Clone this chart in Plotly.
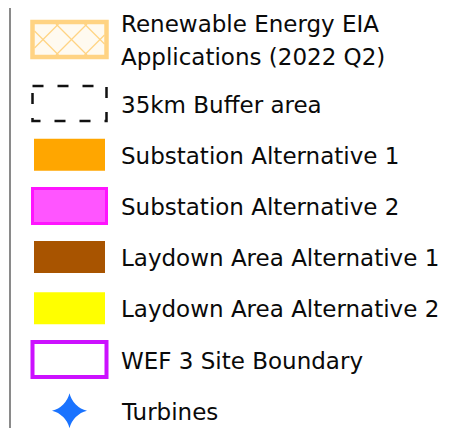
import plotly.graph_objects as go

labels = [
    "Renewable Energy EIA\nApplications (2022 Q2)",
    "35km Buffer area",
    "Substation Alternative 1",
    "Substation Alternative 2",
    "Laydown Area Alternative 1",
    "Laydown Area Alternative 2",
    "WEF 3 Site Boundary",
    "Turbines",
]
kinds = ["hatch", "dashed", "fill", "fill", "fill", "fill", "outline", "star"]
fill_colors = ["rgba(255,214,130,0.12)", "rgba(0,0,0,0)", "#FFA600", "#FF55FF",
               "#A85400", "#FFFF00", "#FFFFFF", "#1A73FF"]
line_colors = ["#FFD383", "#111111", "#FFA600", "#FF14FF",
               "#A85400", "#FFFF00", "#CC11FF", "#1A73FF"]

W, H = 452, 428
PAGE_OFFSET = 8  # default body margin of the page
ROW_H = 51.2
LINE_H = 32.5
TOP = 1.1
BOX_X0, BOX_X1 = 32.5, 106.5
BOX_HALF = 17.5
TEXT_X = 118.5
TEXT_DY = 1.0
FONT = dict(family="DejaVu Sans", size=23, color="#0a0a0a")

fig = go.Figure()
shapes = []
annotations = []

# vertical frame line on the left
shapes.append(dict(type="line", x0=10, x1=10, y0=0, y1=H,
                   line=dict(color="#8a8a8a", width=2)))


def clip_line(xc, yc, s, x0, x1, y0, y1):
    # line y = yc + s*(x - xc), clipped to rectangle
    pts = []
    for x in (x0, x1):
        y = yc + s * (x - xc)
        if y0 - 1e-9 <= y <= y1 + 1e-9:
            pts.append((x, y))
    for y in (y0, y1):
        x = xc + (y - yc) / s
        if x0 - 1e-9 <= x <= x1 + 1e-9:
            pts.append((x, y))
    pts = sorted(set((round(a, 6), round(b, 6)) for a, b in pts))
    if len(pts) >= 2:
        return pts[0], pts[-1]
    return None


y = TOP
star_x, star_y = [], []
for i, (lab, kind) in enumerate(zip(labels, kinds)):
    lines = lab.split("\n")
    h = ROW_H + (len(lines) - 1) * 32 * 0.8
    yc = y + h / 2
    y += h
    fc, lc = fill_colors[i], line_colors[i]
    if kind == "star":
        star_x.append((BOX_X0 + BOX_X1) / 2)
        star_y.append(yc)
    elif kind == "hatch":
        shapes.append(dict(type="rect", x0=BOX_X0, x1=BOX_X1,
                           y0=yc - BOX_HALF, y1=yc + BOX_HALF,
                           fillcolor=fc, line=dict(color=lc, width=4.5)))
        ix0, ix1 = BOX_X0 + 2, BOX_X1 - 2
        iy0, iy1 = yc - BOX_HALF + 2, yc + BOX_HALF - 2
        period = 28.5
        xc = BOX_X0 + 10.5 - period
        while xc < BOX_X1 + period:
            for s in (1, -1):
                seg = clip_line(xc, yc, s, ix0, ix1, iy0, iy1)
                if seg:
                    shapes.append(dict(type="line", x0=seg[0][0], y0=seg[0][1],
                                       x1=seg[1][0], y1=seg[1][1],
                                       line=dict(color=lc, width=1.3)))
            xc += period
    elif kind == "dashed":
        shapes.append(dict(type="rect", x0=BOX_X0, x1=BOX_X1,
                           y0=yc - BOX_HALF, y1=yc + BOX_HALF,
                           fillcolor=fc,
                           line=dict(color=lc, width=2.5, dash="11px,14px")))
    elif kind == "outline":
        shapes.append(dict(type="rect", x0=BOX_X0, x1=BOX_X1,
                           y0=yc - BOX_HALF, y1=yc + BOX_HALF,
                           fillcolor=fc, line=dict(color=lc, width=4)))
    else:
        lw = 3 if fc != lc else 0
        inset = 0 if lw else 1.5
        shapes.append(dict(type="rect", x0=BOX_X0 + inset, x1=BOX_X1 - inset,
                           y0=yc - BOX_HALF + inset, y1=yc + BOX_HALF - inset,
                           fillcolor=fc, line=dict(color=lc, width=lw)))
    n = len(lines)
    for k, t in enumerate(lines):
        ty = yc + TEXT_DY + (k - (n - 1) / 2) * LINE_H
        annotations.append(dict(x=TEXT_X, y=ty, text=t, xref="x", yref="y",
                                showarrow=False, xanchor="left", yanchor="middle",
                                font=FONT))

fig.add_trace(go.Scatter(x=star_x, y=star_y, mode="markers", hoverinfo="skip",
                         marker=dict(symbol="star-diamond", size=25,
                                     color=fill_colors[-1],
                                     line=dict(width=0))))

fig.update_layout(
    width=W - PAGE_OFFSET, height=H - PAGE_OFFSET,
    margin=dict(l=0, r=0, t=0, b=0),
    paper_bgcolor="white", plot_bgcolor="white",
    showlegend=False, shapes=shapes, annotations=annotations,
    xaxis=dict(range=[PAGE_OFFSET, W], visible=False, fixedrange=True),
    yaxis=dict(range=[H, PAGE_OFFSET], visible=False, fixedrange=True),
)
fig.write_html("out.html")
